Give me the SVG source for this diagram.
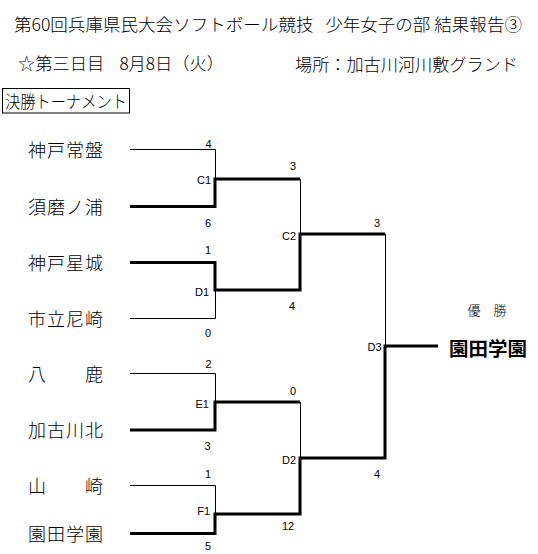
<svg xmlns="http://www.w3.org/2000/svg" width="538" height="554" viewBox="0 0 538 554">
<style>
.jp{font-family:"Noto Sans CJK JP","Noto Sans CJK SC",sans-serif;fill:#000;font-weight:300}
.hd{font-size:17px}
.tm{font-size:18px}
.num{font-family:"Liberation Sans",Arial,sans-serif;font-size:11px;fill:#000}
.mid{text-anchor:middle}
.end{text-anchor:end}
.thin{fill:none;stroke:#000;stroke-width:1}
.thick{fill:none;stroke:#000;stroke-width:3;stroke-linejoin:miter;stroke-linecap:butt}
</style>
<rect width="538" height="554" fill="#fff"/>
<g id="header">
<text class="jp hd" x="14" y="31" textLength="508" lengthAdjust="spacingAndGlyphs" xml:space="preserve">第60回兵庫県民大会ソフトボール競技   少年女子の部 結果報告③</text>
<text class="jp hd" x="18" y="70" textLength="206" lengthAdjust="spacingAndGlyphs" xml:space="preserve">☆第三日目    8月8日（火）</text>
<text class="jp hd" x="295" y="71" textLength="223" lengthAdjust="spacingAndGlyphs">場所：加古川河川敷グランド</text>
</g>
<g id="title-box">
<rect x="2.5" y="88.5" width="127" height="24.5" fill="none" stroke="#000" stroke-width="1"/>
<text class="jp" x="5" y="108" font-size="17" textLength="122" lengthAdjust="spacingAndGlyphs">決勝トーナメント</text>
</g>
<g id="connectors">
<path class="thin" d="M130,149.5H215.5V179"/>
<path class="thin" d="M215.5,290V318.5H130"/>
<path class="thin" d="M130,373.5H215.5V402"/>
<path class="thin" d="M130,485.5H215.5V514"/>
<path class="thin" d="M300.5,179V234"/>
<path class="thin" d="M300.5,402V458"/>
<path class="thin" d="M385.5,234V346"/>
<path class="thick" d="M130,206.5H215V179H300"/>
<path class="thick" d="M130,262.5H215V290H300V234H385"/>
<path class="thick" d="M130,430H215V402H300"/>
<path class="thick" d="M130,533.5H215V514H300V458H385V346H438"/>
</g>
<g id="team-1"><text class="jp tm" x="28" y="157" textLength="75">神戸常盤</text></g>
<g id="team-2"><text class="jp tm" x="28" y="214" textLength="75">須磨ノ浦</text></g>
<g id="team-3"><text class="jp tm" x="28" y="270" textLength="75">神戸星城</text></g>
<g id="team-4"><text class="jp tm" x="28" y="326" textLength="75">市立尼崎</text></g>
<g id="team-5"><text class="jp tm" x="28" y="381" textLength="75" xml:space="preserve">八　　鹿</text></g>
<g id="team-6"><text class="jp tm" x="28" y="437" textLength="75">加古川北</text></g>
<g id="team-7"><text class="jp tm" x="28" y="493" textLength="75" xml:space="preserve">山　　崎</text></g>
<g id="team-8"><text class="jp tm" x="28" y="541" textLength="75">園田学園</text></g>
<g id="match-C1">
<text class="num mid" x="208.5" y="148">4</text>
<text class="num end" x="211" y="184">C1</text>
<text class="num mid" x="208" y="227">6</text>
</g>
<g id="match-D1">
<text class="num mid" x="208" y="254">1</text>
<text class="num end" x="209" y="296">D1</text>
<text class="num mid" x="208" y="337">0</text>
</g>
<g id="match-E1">
<text class="num mid" x="208.5" y="368">2</text>
<text class="num end" x="209" y="408">E1</text>
<text class="num mid" x="207.5" y="450">3</text>
</g>
<g id="match-F1">
<text class="num mid" x="208" y="478">1</text>
<text class="num end" x="210" y="515">F1</text>
<text class="num mid" x="208" y="550">5</text>
</g>
<g id="match-C2">
<text class="num mid" x="293" y="170">3</text>
<text class="num end" x="296" y="240">C2</text>
<text class="num mid" x="292" y="310">4</text>
</g>
<g id="match-D2">
<text class="num mid" x="293" y="395">0</text>
<text class="num end" x="296" y="464">D2</text>
<text class="num mid" x="288" y="530">12</text>
</g>
<g id="match-D3">
<text class="num mid" x="377" y="227">3</text>
<text class="num end" x="381.5" y="351">D3</text>
<text class="num mid" x="377" y="478">4</text>
</g>
<g id="champion">
<text class="jp" x="487" y="315" font-size="13" text-anchor="middle" xml:space="preserve">優　勝</text>
<text x="449" y="356" font-family="'Noto Sans CJK JP','Noto Sans CJK SC',sans-serif" font-size="19" font-weight="bold" textLength="78" lengthAdjust="spacingAndGlyphs">園田学園</text>
</g>
</svg>
